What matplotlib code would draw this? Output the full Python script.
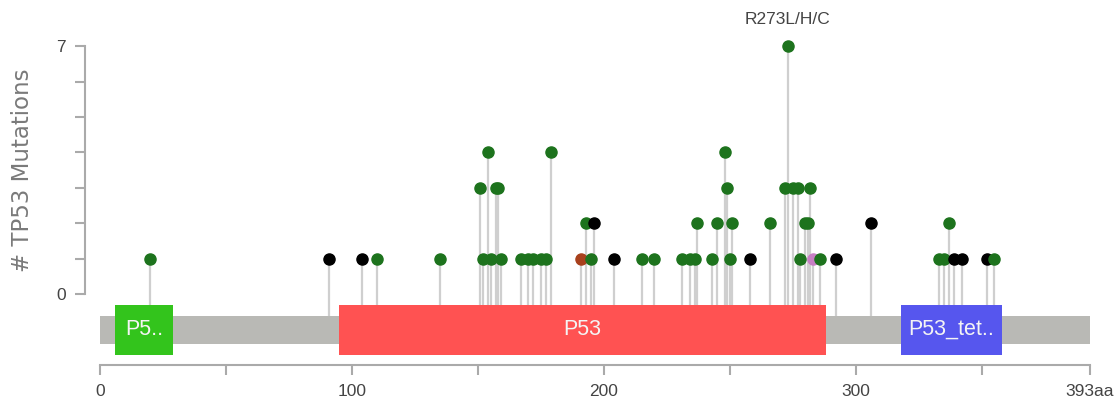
import numpy as np
import matplotlib
matplotlib.use('Agg')
import matplotlib.pyplot as plt
from matplotlib.patches import Rectangle

# protein length and pfam domains
protein_len = 393
domain_names = ['P5..', 'P53', 'P53_tet..']
domain_start = [6, 95, 318]
domain_end = [29, 288, 358]
domain_colors = ['#33c41c', '#ff5252', '#5656ee']

# mutations: position (aa), count, type
mut_pos = [20, 91, 104, 110, 135, 152, 155, 159, 167, 170, 172, 175, 177,
           191, 195, 204, 215, 220, 231, 234, 236, 243, 250, 258, 278, 283,
           286, 292, 333, 335, 339, 342, 352, 355,
           193, 196, 237, 245, 251, 266, 280, 281, 306, 337,
           151, 157, 158, 249, 272, 275, 277, 282,
           154, 179, 248,
           273]
mut_count = [1] * 34 + [2] * 10 + [3] * 8 + [4] * 3 + [7]
mut_type = ['M', 'T', 'T', 'M', 'M', 'M', 'M', 'M', 'M', 'M', 'M', 'M', 'M',
            'I', 'M', 'T', 'M', 'M', 'M', 'M', 'M', 'M', 'M', 'T', 'M', 'O',
            'M', 'T', 'M', 'M', 'T', 'T', 'T', 'M',
            'M', 'T', 'M', 'M', 'M', 'M', 'M', 'M', 'T', 'M',
            'M', 'M', 'M', 'M', 'M', 'M', 'M', 'M',
            'M', 'M', 'M',
            'M']
type_colors = {'M': '#1d731d', 'T': '#000000', 'I': '#a8401c', 'O': '#c77fc4'}

hot_label = 'R273L/H/C'
hot_pos = 273

narrow = ['Liberation Sans Narrow', 'Liberation Sans', 'DejaVu Sans']

fig = plt.figure(figsize=(11.14, 4.08), dpi=100)
ax = fig.add_axes([0.0627, 0.0539, 0.9316, 0.9022])
ax.set_xlim(-12, 400)
ax.set_ylim(-2.6, 7.8)

# stems
bar_top = -0.62
for p, c in zip(mut_pos, mut_count):
    ax.plot([p, p], [bar_top, c], color='#cfcfcf', lw=1.6, zorder=1)

# protein backbone and domains
ax.add_patch(Rectangle((0, -1.42), protein_len, 0.8, facecolor='#b9b9b5',
                       edgecolor='none', zorder=2))
for name, s, e, col in zip(domain_names, domain_start, domain_end, domain_colors):
    ax.add_patch(Rectangle((s, -1.73), e - s, 1.42, facecolor=col,
                           edgecolor='none', zorder=3))
    ax.text((s + e) / 2, -1.0, name, color='#f4f4f4', fontsize=15.5,
            family=narrow, ha='center', va='center', zorder=4)

# heads
for p, c, t in zip(mut_pos, mut_count, mut_type):
    ax.plot(p, c, 'o', color=type_colors[t], ms=8, mec=type_colors[t],
            zorder=5)

ax.annotate(hot_label, (hot_pos, 7), xytext=(0, 19), textcoords='offset points',
            ha='center', va='center', fontsize=12.5, family=narrow, color='#444444')

# axes styling
for s in ['top', 'right']:
    ax.spines[s].set_visible(False)
ax.spines['left'].set_position(('data', -6))
ax.spines['left'].set_bounds(0, 7)
ax.spines['bottom'].set_position(('data', -2.0))
ax.spines['bottom'].set_bounds(0, protein_len)
for s in ['left', 'bottom']:
    ax.spines[s].set_color('#aaaaaa')
    ax.spines[s].set_linewidth(1.5)

ax.set_yticks(range(8))
ax.set_yticklabels(['0', '', '', '', '', '', '', '7'])
ax.set_xticks([0, 50, 100, 150, 200, 250, 300, 350, protein_len])
ax.set_xticklabels(['0', '', '100', '', '200', '', '300', '', '393aa'])
ax.tick_params(colors='#aaaaaa', width=1.5, length=7, pad=7,
               labelcolor='#444444', labelsize=12.5)
for lab in ax.get_xticklabels() + ax.get_yticklabels():
    lab.set_family(narrow)

fig.text(23 / 1114, 0.583, '# TP53 Mutations', rotation=90, ha='center',
         va='center', fontsize=16.5, color='#7a7a7a')

fig.savefig('out.png', dpi=100)
